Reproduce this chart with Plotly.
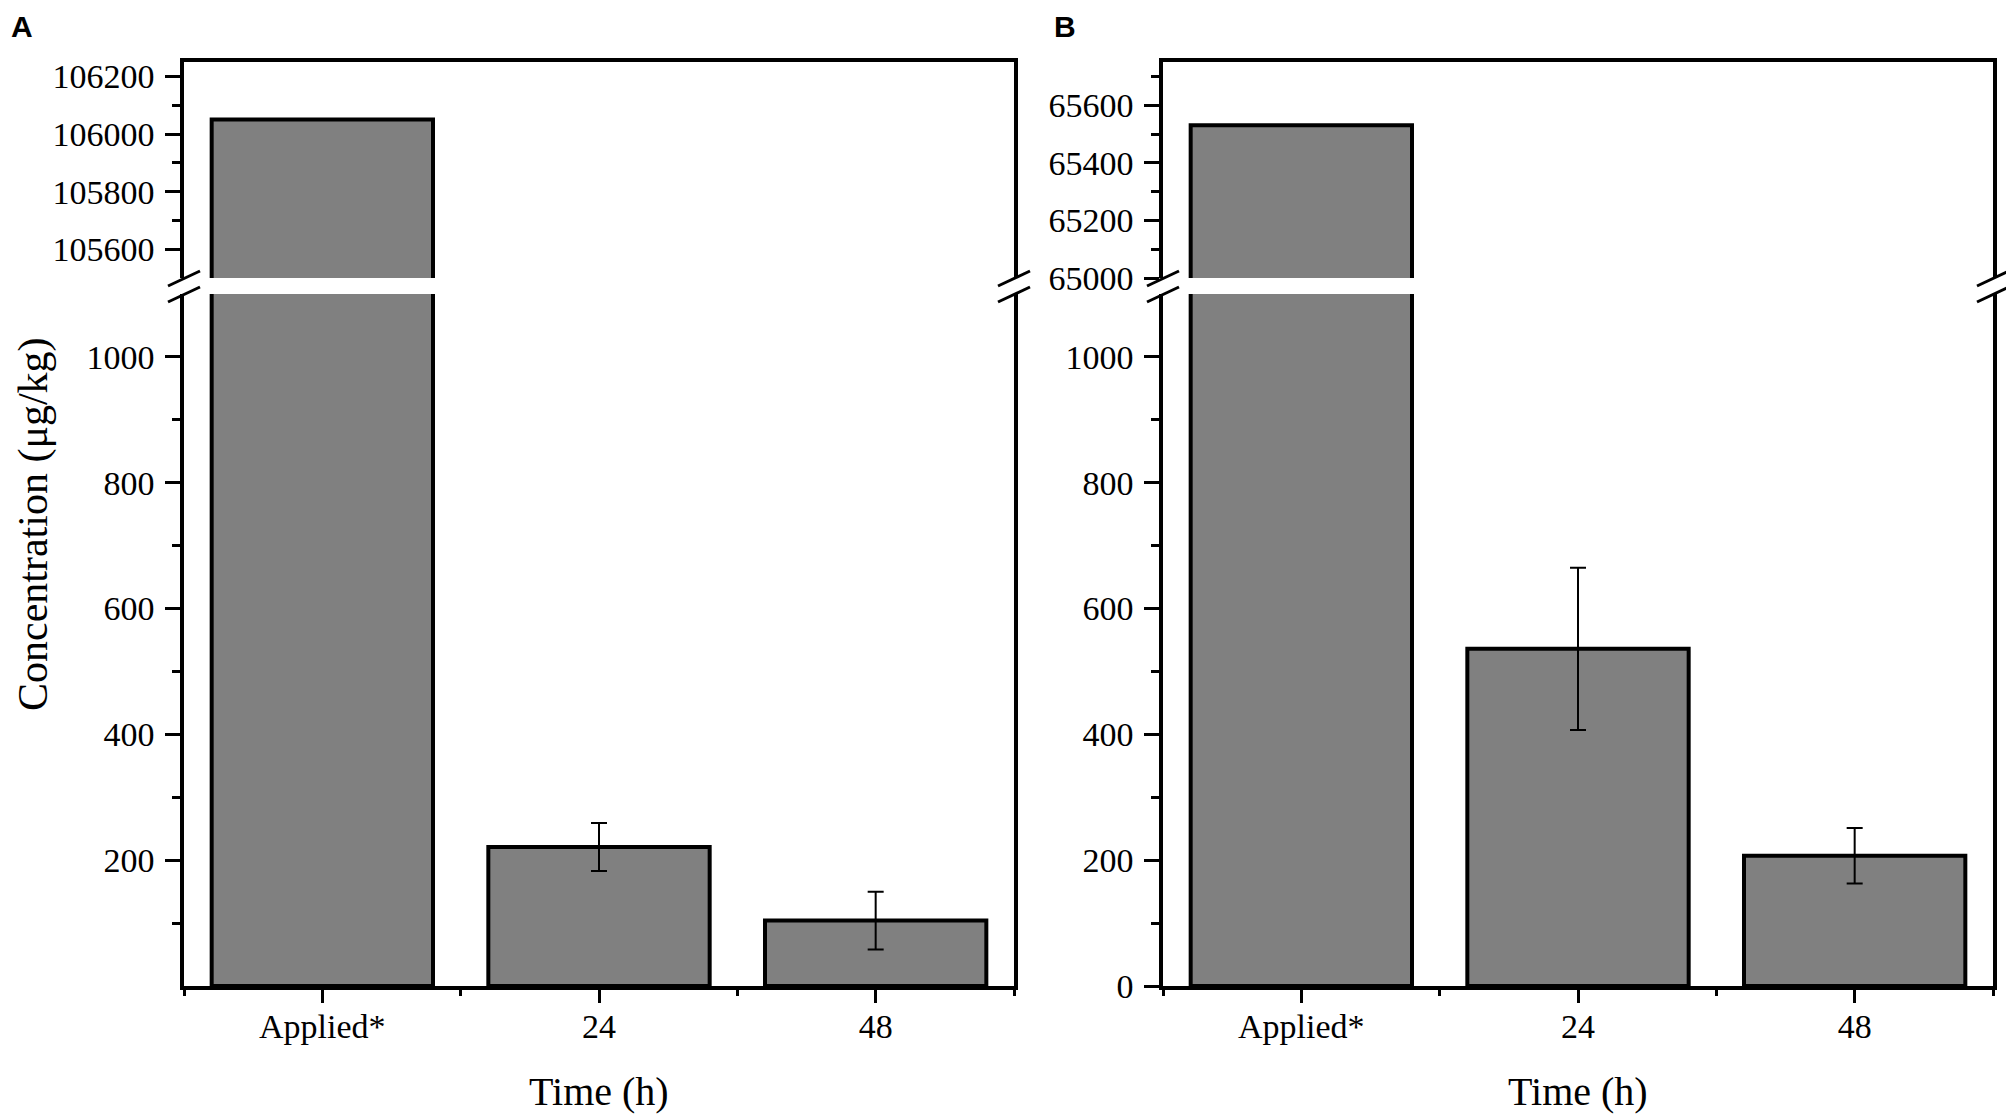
"""plot.py - two-panel broken-axis bar chart (concentration over time)."""
import plotly.graph_objects as go
from plotly.subplots import make_subplots

categories = ["Applied*", "24", "48"]

# panel A
a_mean = [106050, 221, 104]
a_sd = [None, 38, 46]
# panel B
b_mean = [65530, 536, 207]
b_sd = [None, 129, 44]

# broken axis: upper + lower value windows
a_upper_range = [105500, 106250]
b_upper_range = [65000, 65750]
lower_range = [0, 1100]
a_upper_ticks = [105600, 105800, 106000, 106200]
b_upper_ticks = [65000, 65200, 65400, 65600]
a_lower_ticks = [200, 400, 600, 800, 1000]
b_lower_ticks = [0, 200, 400, 600, 800, 1000]

# page is 2014x1120, body margin of 8px pushes the figure in
PAGE_OFF = 8
W, H = 2014 - PAGE_OFF, 1120 - PAGE_OFF
SERIF = "Liberation Serif"


def px_x(p):
    return (p - PAGE_OFF) / W


def px_y(p):
    return 1 - (p - PAGE_OFF) / H


A_X = [184, 1014]
B_X = [1163, 1993]
TOP = [62, 278]
BOT = [294, 986]

x_idx = list(range(len(categories)))

fig = make_subplots(rows=2, cols=2)

panels = [
    (1, a_mean, a_sd, a_upper_range, a_upper_ticks, a_lower_ticks, A_X),
    (2, b_mean, b_sd, b_upper_range, b_upper_ticks, b_lower_ticks, B_X),
]

ytick = dict(
    showline=True, linecolor="black", linewidth=3.5, mirror=True,
    ticks="outside", ticklen=15, tickwidth=3, tickcolor="black",
    tickfont=dict(family=SERIF, size=34, color="black"), tickformat="d",
    showgrid=False, zeroline=False, automargin=False, ticklabelstandoff=4,
)

for col, mean, sd, up_rng, up_ticks, low_ticks, xdom in panels:
    for row in (1, 2):
        fig.add_trace(go.Bar(
            x=x_idx, y=mean, width=0.8,
            marker=dict(color="#808080", line=dict(color="black", width=4)),
            error_y=dict(type="data", array=sd, visible=(row == 2),
                         color="black", thickness=2, width=8),
            showlegend=False,
        ), row=row, col=col)

    up_x = "xaxis" if col == 1 else "xaxis2"
    up_y = "yaxis" if col == 1 else "yaxis2"
    lo_x = "xaxis3" if col == 1 else "xaxis4"
    lo_y = "yaxis3" if col == 1 else "yaxis4"

    step = up_ticks[1] - up_ticks[0]
    up_minor = [v + step / 2 for v in up_ticks]
    lo_minor = [v + 100 for v in range(0, 1000, 200)]

    fig.update_layout({
        up_y: dict(ytick, domain=[px_y(TOP[1]), px_y(TOP[0])], range=up_rng,
                   tickmode="array", tickvals=up_ticks,
                   minor=dict(tickmode="array", tickvals=up_minor, ticks="outside",
                              ticklen=8, tickwidth=3, tickcolor="black", showgrid=False)),
        lo_y: dict(ytick, domain=[px_y(BOT[1]), px_y(BOT[0])], range=lower_range,
                   tickmode="array", tickvals=low_ticks,
                   minor=dict(tickmode="array", tickvals=lo_minor, ticks="outside",
                              ticklen=8, tickwidth=3, tickcolor="black", showgrid=False)),
        up_x: dict(domain=[px_x(xdom[0]), px_x(xdom[1])], range=[-0.5, 2.5],
                   showline=True, linecolor="black", linewidth=3.5, side="top",
                   showticklabels=False, ticks="", showgrid=False, zeroline=False,
                   automargin=False),
        lo_x: dict(domain=[px_x(xdom[0]), px_x(xdom[1])], range=[-0.5, 2.5],
                   showline=True, linecolor="black", linewidth=3.5,
                   tickmode="array", tickvals=x_idx, ticktext=categories,
                   ticks="outside", ticklen=13, tickwidth=3, tickcolor="black",
                   tickfont=dict(family=SERIF, size=34, color="black"),
                   ticklabelstandoff=-6,
                   minor=dict(tickmode="array", tickvals=[-0.5, 0.5, 1.5, 2.5],
                              ticks="outside", ticklen=6, tickwidth=3,
                              tickcolor="black", showgrid=False),
                   showgrid=False, zeroline=False, automargin=False),
    })

# break marks "//" on both sides of each panel
shapes = []
for xdom in (A_X, B_X):
    for xp in xdom:
        for yc in (TOP[1], BOT[0]):
            shapes.append(dict(
                type="line", xref="paper", yref="paper", opacity=1,
                x0=px_x(xp - 16), y0=px_y(yc + 8), x1=px_x(xp + 16), y1=px_y(yc - 7),
                line=dict(color="black", width=3),
            ))

annotations = [
    dict(text="<b>A</b>", x=px_x(9), y=1, xanchor="left", yanchor="top",
         font=dict(family="Liberation Sans", size=30, color="black")),
    dict(text="<b>B</b>", x=px_x(1052), y=1, xanchor="left", yanchor="top",
         font=dict(family="Liberation Sans", size=30, color="black")),
    dict(text="Concentration (μg/kg)", x=px_x(33), y=px_y(524), textangle=-90,
         xanchor="center", yanchor="middle",
         font=dict(family=SERIF, size=42, color="black")),
]
for xdom in (A_X, B_X):
    annotations.append(dict(
        text="Time (h)", x=px_x((xdom[0] + xdom[1]) / 2), y=px_y(1091),
        xanchor="center", yanchor="middle",
        font=dict(family=SERIF, size=40, color="black"),
    ))
for a in annotations:
    a.update(xref="paper", yref="paper", showarrow=False)

fig.update_layout(
    width=W, height=H,
    margin=dict(l=0, r=0, t=0, b=0),
    paper_bgcolor="white", plot_bgcolor="white",
    template="simple_white",
    shapes=shapes, annotations=annotations,
    showlegend=False, bargap=0.2,
)

fig.write_html("out.html")
